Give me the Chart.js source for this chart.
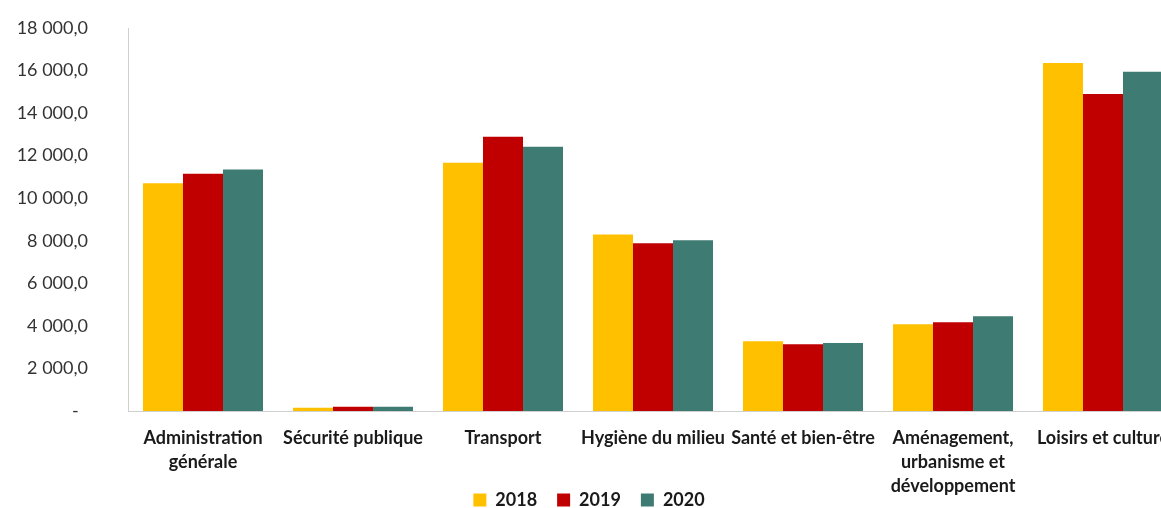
<!DOCTYPE html>
<html>
<head>
<meta charset="utf-8">
<script src="https://cdn.jsdelivr.net/npm/chart.js@4"></script>
<style>
  html, body { margin: 0; padding: 0; background: #fff; overflow: hidden; }
  #wrap { width: 1192px; height: 508px; }
</style>
</head>
<body>
<div id="wrap"><canvas id="chart" width="1192" height="508"></canvas></div>
<script>
// Catégories et valeurs par année
const categories = [
  ["Administration", "générale"],
  "Sécurité publique",
  "Transport",
  "Hygiène du milieu",
  "Santé et bien-être",
  ["Aménagement,", "urbanisme et", "développement"],
  "Loisirs et culture"
];
const years = ["2018", "2019", "2020"];
const values2018 = [10700, 150, 11670, 8300, 3280, 4080, 16360];
const values2019 = [11150, 200, 12890, 7880, 3140, 4170, 14900];
const values2020 = [11350, 200, 12420, 8020, 3190, 4450, 15940];
const yTicks = [0, 2000, 4000, 6000, 8000, 10000, 12000, 14000, 16000, 18000];
const colors = ["#FFC000", "#C00000", "#3E7B72"];

// Format "18 000,0", zéro affiché comme "-"
function formatTick(v) {
  if (v === 0) return "-  ";
  const ent = Math.floor(v).toString().replace(/\B(?=(\d{3})+(?!\d))/g, " ");
  return ent + ",0";
}

// Les étiquettes de l'axe x descendent sous la légende : on agrandit la zone
// de l'axe et on descend un peu la légende après la mise en page
const overlapPlugin = {
  id: "overlap",
  afterLayout(chart) {
    const x = chart.scales.x;
    x.bottom = chart.height;
    x.height = x.bottom - x.top;
    const lg = chart.legend;
    if (lg) {
      lg.top += 11;
      lg.bottom += 11;
    }
  }
};

const ctx = document.getElementById("chart").getContext("2d");
new Chart(ctx, {
  type: "bar",
  data: {
    labels: categories,
    datasets: [values2018, values2019, values2020].map((d, i) => ({
      label: years[i],
      data: d,
      backgroundColor: colors[i],
      borderWidth: 0,
      categoryPercentage: 0.8,
      barPercentage: 1.0
    }))
  },
  plugins: [overlapPlugin],
  options: {
    responsive: false,
    animation: false,
    layout: { padding: { top: 28, right: 14, left: 0, bottom: 0 } },
    plugins: {
      legend: {
        position: "bottom",
        labels: {
          boxWidth: 13,
          boxHeight: 13,
          padding: 20,
          color: "#1a1a1a",
          font: { family: "Lato", size: 18, weight: "bold" }
        }
      },
      tooltip: { enabled: false }
    },
    scales: {
      x: {
        afterFit: (s) => { s.height = 49; },
        grid: { display: false },
        border: { display: true, color: "#d0d0d0", width: 1 },
        ticks: {
          color: "#1a1a1a",
          padding: 7,
          maxRotation: 0,
          autoSkip: false,
          font: { family: "Lato", size: 18, weight: "bold", lineHeight: 1.33 }
        }
      },
      y: {
        min: 0,
        max: 18000,
        afterFit: (s) => {
          s.width = 128;
          s.paddingTop = 0;
          s.paddingBottom = 0;
        },
        afterBuildTicks: (s) => { s.ticks = yTicks.map((v) => ({ value: v })); },
        grid: { display: false },
        border: { display: true, color: "#d0d0d0", width: 1 },
        ticks: {
          color: "#333",
          padding: 32,
          callback: formatTick,
          font: { family: "Lato", size: 18 }
        }
      }
    }
  }
});
</script>
</body>
</html>
